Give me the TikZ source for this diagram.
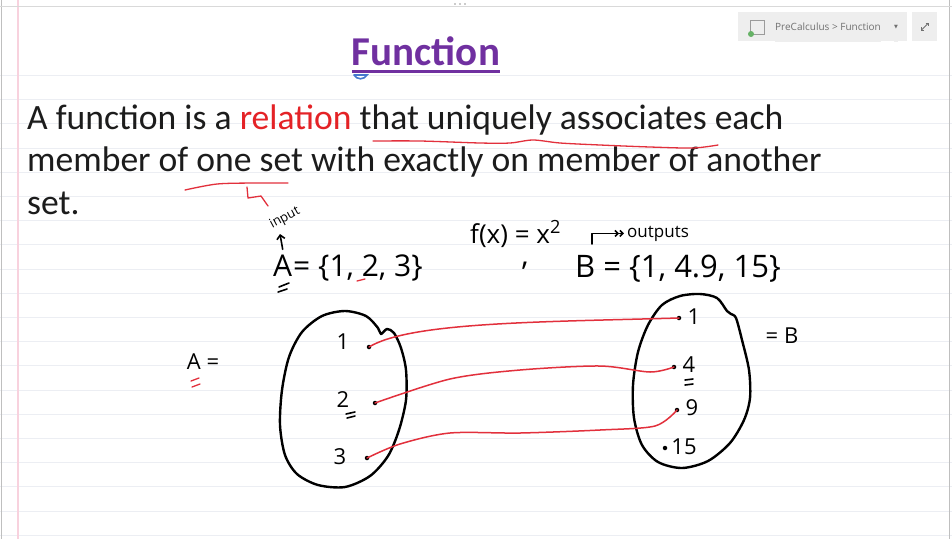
\documentclass[tikz,border=0pt]{standalone}
\usepackage{fontspec}
\setmainfont{Carlito}
\newfontfamily\handfont{Open Sans}
\newfontfamily\uifont{Open Sans}
\newfontfamily\symfont{DejaVu Sans}
\usetikzlibrary{arrows.meta,calc,positioning}
\definecolor{TitlePurple}{RGB}{112,48,160}
\definecolor{RelRed}{RGB}{228,34,38}
\definecolor{InkRed}{RGB}{226,48,60}
\definecolor{InkBlue}{RGB}{70,120,205}
\definecolor{RuleGray}{RGB}{236,238,243}
\definecolor{MarginPink}{RGB}{248,210,222}
\definecolor{BarGray}{RGB}{238,238,238}
\definecolor{UiText}{RGB}{112,112,112}
\definecolor{TextBlack}{RGB}{28,28,28}

\begin{document}
\begin{tikzpicture}[x=1pt,y=-1pt,
  body/.style={inner sep=0pt,anchor=base west,text=TextBlack,font=\fontsize{35.6}{42}\selectfont},
  hand/.style={inner sep=0pt,font=\handfont\fontsize{#1}{#1}\selectfont},
  ink/.style={line width=2.4pt,line cap=round,line join=round},
  thinink/.style={line width=1.6pt,line cap=round,line join=round},
  redink/.style={draw=InkRed,line width=1.3pt,line cap=round,line join=round},
  link/.style={draw=InkRed,line width=1.5pt,line cap=round},
  pt/.style={circle,fill=black,inner sep=0pt,minimum size=4.5pt},
  crumb/.style={fill=BarGray,inner sep=0pt,minimum height=29pt,font=\uifont\fontsize{10}{10}\selectfont,text=UiText}
]
  \useasboundingbox (0,0) rectangle (952,539);
  \fill[white] (0,0) rectangle (952,539);
  \foreach \k in {0,...,19}
    \draw[RuleGray,line width=1pt] (0,{75.5+24.2*\k}) -- (952,{75.5+24.2*\k});
  \draw[MarginPink,line width=1.2pt] (18,0) -- (18,539);
  \draw[black!25,line width=1pt] (1,0) -- (1,539);
  \draw[black!25,line width=1pt] (949,0) -- (949,539);
  \draw[black!15,line width=0.8pt] (0,6) -- (952,6);
  \foreach \d in {455,460,465}
    \fill[black!40] (\d,4) circle (0.9);

  \node[crumb,minimum width=169pt] (crumb) at (822.5,26.5) {};
  \node[crumb,anchor=west] (crumbtxt) at (775,27) {PreCalculus > Function};
  \node[crumb,anchor=center,font=\symfont\fontsize{5}{5}\selectfont] (crumbarrow) at (896,27) {▼};
  \draw[UiText!70,line width=0.8pt] (750,20) rectangle (764,34);
  \fill[green!50!black!60] (751,34) circle (3);
  \node[crumb,minimum width=25pt,right=5pt of crumb] (expand) {};
  \draw[UiText,line width=0.9pt,{Straight Barb[length=2pt]}-{Straight Barb[length=2pt]}]
    ($(expand.center)+(-4,4)$) -- ($(expand.center)+(4,-4)$);

  \node[inner sep=0pt,anchor=base,text=TitlePurple,font=\bfseries\fontsize{41}{41}\selectfont] (ttl) at (426,65) {Function};
  \draw[TitlePurple,line width=3pt] ([yshift=-6pt]ttl.base west) -- ([yshift=-6pt]ttl.base east);
  \draw[InkBlue,line width=1.6pt,line cap=round] (354,75) .. controls (357,80) and (364,80) .. (367,75) -- (354,75);

  \node[body] (l1) at (27,129) {A function is a \textcolor{RelRed}{relation} that uniquely associates each};
  \node[body] (l2) at (27,171.5) {member of one set with exactly on member of another};
  \node[body] (l3) at (27,214) {set.};

  \draw[redink] plot[smooth] coordinates {(373,141) (420,141) (480,143) (510,143) (533,140) (560,143) (600,145) (650,147) (693,148) (718,145)};
  \draw[redink] plot[smooth] coordinates {(185,190) (217,184) (255,183) (288,183)};
  \draw[redink] (247,187) -- (248,198) -- (261,196) -- (268,206);

  \node[hand=13,rotate=28] (inp) at (285,218) {input};
  \node[hand=30,anchor=base west] (A) at (273,276) {A};
  \node[hand=30,anchor=base west] (Aset) at (293,276) {= \{1, 2, 3\}};
  \coordinate (inpfoot) at (280,234);
  \draw[thinink,-{Straight Barb[length=4pt]}] ([yshift=5pt]A.north) -- (inpfoot);
  \draw[thinink] (279,287) -- (289,283);
  \draw[thinink] (278,292) -- (287,289);
  \draw[redink] (357,281) -- (365,279);

  \node[hand=26,anchor=base west] (fx) at (470,243) {f(x) = x\textsuperscript{2}};
  \node[hand=17,anchor=base west] (outs) at (627,237) {outputs};
  \coordinate (outtail) at (592,244);
  \draw[thinink,-{Straight Barb[length=3pt]Straight Barb[length=3pt]}] (outtail) |- ([xshift=-3pt]outs.west);
  \node[hand=30,anchor=base] (comma) at (525,265) {,};
  \node[hand=31,anchor=base west] (Bset) at (575,277) {B = \{1, 4.9, 15\}};

  \draw[ink] plot[smooth cycle] coordinates {(345,311) (366,316) (378,328) (381,334) (387,329) (394,333) (401,348) (406,370) (406,400) (399,430) (388,456) (370,476) (345,487) (318,485) (297,474) (285,455) (280,425) (282,390) (289,357) (302,332) (322,316)};
  \draw[ink] plot[smooth cycle] coordinates {(700,294) (717,298) (727,311) (731,314) (736,318) (742,340) (749,370) (750,398) (744,420) (730,443) (708,461) (682,468) (658,462) (642,445) (634,418) (633,385) (638,352) (648,325) (662,305) (680,296)};

  \node[hand=22] (Alab) at (203,362) {A =};
  \draw[redink] (191,381) -- (199,378);
  \draw[redink] (192,387) -- (200,384);
  \node[hand=22] (Blab) at (782,336) {= B};

  \node[hand=22] (n1) at (343,342) {1};
  \node[hand=22] (n2) at (343,400) {2};
  \node[hand=22] (n3) at (340,457) {3};
  \draw[thinink] (346,414) -- (355,412);
  \draw[thinink] (347,418) -- (355,416);
  \node[pt] (a1) at (369,347) {};
  \node[pt] (a2) at (375,403) {};
  \node[pt] (a3) at (367,458) {};

  \node[hand=22] (m1) at (694,317) {1};
  \node[hand=22] (m4) at (689,365) {4};
  \node[hand=22] (m9) at (692,408) {9};
  \node[hand=22] (m15) at (684,447) {15};
  \draw[thinink] (685,380) -- (693,379);
  \draw[thinink] (685,385) -- (693,384);
  \node[pt] (b1) at (679,318) {};
  \node[pt] (b4) at (674,367) {};
  \node[pt] (b9) at (677,410) {};
  \node[pt] (b15) at (665,448) {};

  \draw[link] (a1.center) .. controls (410,322) and (540,322) .. (b1.center);
  \draw[link] plot[smooth] coordinates {(a2.center) (450,379) (520,370) (600,366) (650,372) (b4.center)};
  \draw[link] plot[smooth] coordinates {(a3.center) (400,444) (450,433) (520,433) (600,430) (655,426) (b9.center)};
\end{tikzpicture}
\end{document}
